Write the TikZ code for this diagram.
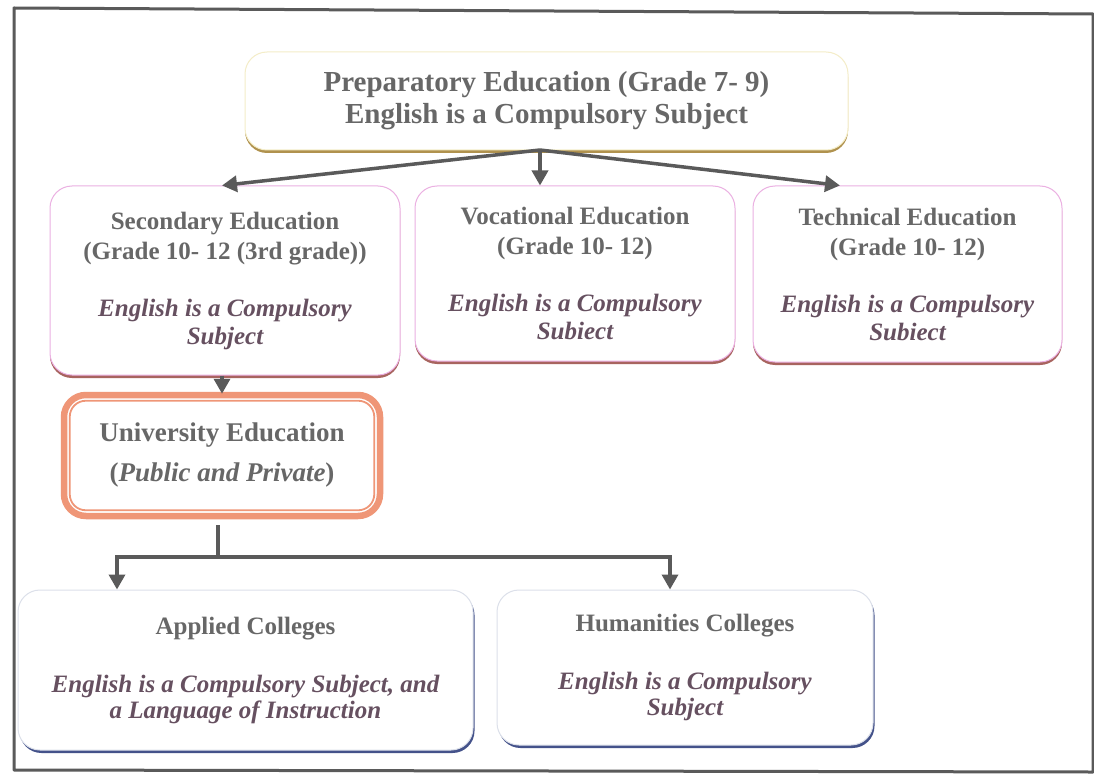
\documentclass[tikz,border=0pt]{standalone}
\usepackage{fontspec}
\setmainfont{Liberation Serif}
\usetikzlibrary{arrows.meta,shadows}
\definecolor{txt}{HTML}{676767}
\definecolor{itx}{HTML}{665060}
\definecolor{linec}{HTML}{5A5A5A}
\definecolor{pinkb}{HTML}{EBB0E2}
\definecolor{pinks}{HTML}{A8645F}
\definecolor{yelb}{HTML}{F4EDC8}
\definecolor{yels}{HTML}{B0924E}
\definecolor{salm}{HTML}{EF9677}
\definecolor{blub}{HTML}{DCE0EA}
\definecolor{blus}{HTML}{44528A}
\tikzset{
  box/.style={rounded corners=22pt, fill=white, align=center, inner sep=0pt, text=txt},
  pinkbox/.style={box, draw=pinkb, line width=1pt,
     drop shadow={shadow xshift=0pt, shadow yshift=-3pt, fill=pinks, opacity=1}},
  arr/.style={draw=linec, line width=3.5pt, -{Triangle[width=16pt,length=15pt]}},
  conn/.style={draw=linec, line width=3.5pt},
  hd/.style={font=\bfseries\fontsize{25}{30}\selectfont},
}
\newcommand{\itl}[1]{{\color{itx}\bfseries\itshape #1}}
\begin{document}
\begin{tikzpicture}[x=1pt,y=-1pt]
\useasboundingbox (0,0) rectangle (1094,778);
\fill[white] (0,0) rectangle (1094,778);
% outer frame
\draw[linec, line width=3pt, line join=round] (14,8) -- (1093,14) -- (1093,772) -- (14,770) -- cycle;

% top box
\node[box, draw=yelb, line width=1pt, minimum width=603pt, minimum height=98pt,
  drop shadow={shadow xshift=0pt, shadow yshift=-3pt, fill=yels, opacity=1},
  font=\bfseries\fontsize{29}{32}\selectfont] (top) at (546.5,101)
  {Preparatory Education (Grade 7- 9)\\English is a Compulsory Subject};

% second row
\node[pinkbox, minimum width=350pt, minimum height=189pt, hd] (sec) at (225,280.5)
  {Secondary Education\\(Grade 10- 12 (3rd grade))\\[27pt]
   \itl{English is a Compulsory}\\[-2pt]\itl{Subject}};
\node[pinkbox, minimum width=320pt, minimum height=175pt, hd] (voc) at (575,273.5)
  {Vocational Education\\(Grade 10- 12)\\[27pt]
   \itl{English is a Compulsory}\\[-2pt]\itl{Subiect}};
\node[pinkbox, minimum width=309pt, minimum height=176pt, hd] (tech) at (907.5,274)
  {Technical Education\\(Grade 10- 12)\\[27pt]
   \itl{English is a Compulsory}\\[-2pt]\itl{Subiect}};

% university
\node[box, draw=salm, line width=6.5pt, minimum width=316pt, minimum height=121pt,
  font=\bfseries\fontsize{27}{40}\selectfont] (univ) at (222,455.5)
  {University Education\\(\textit{Public and Private})};
\draw[salm, line width=1.8pt, rounded corners=16pt]
  ([xshift=9pt,yshift=-9pt]univ.north west) rectangle ([xshift=-9pt,yshift=9pt]univ.south east);

% colleges
\node[box, draw=blub, line width=1pt, minimum width=455pt, minimum height=160pt,
  drop shadow={shadow xshift=1.5pt, shadow yshift=-3pt, fill=blus, opacity=1}, hd]
  (app) at (245.5,670)
  {Applied Colleges\\[28pt]
   \itl{English is a Compulsory Subject, and}\\[-4pt]\itl{a Language of Instruction}};
\node[box, draw=blub, line width=1pt, minimum width=376pt, minimum height=155pt,
  drop shadow={shadow xshift=1.5pt, shadow yshift=-3pt, fill=blus, opacity=1}, hd]
  (hum) at (685,667.5)
  {Humanities Colleges\\[28pt]
   \itl{English is a Compulsory}\\[-4pt]\itl{Subject}};

% connectors
\coordinate (j1) at (540,150);
\draw[arr] (j1) -- ([xshift=-3pt]sec.north);
\draw[arr] (j1) -- (j1 |- voc.north);
\draw[arr] (j1) -- ([xshift=-67.5pt]tech.north);

\draw[arr] (univ.north |- sec.south) -- ([yshift=-2pt]univ.north);

\coordinate (j2) at (218,557);
\draw[conn] ([yshift=-6pt]univ.south -| j2) -- (j2);
\draw[arr] (j2) -| ([xshift=-128.5pt]app.north);
\draw[arr] (j2) -| ([xshift=-15pt]hum.north);
\end{tikzpicture}
\end{document}
